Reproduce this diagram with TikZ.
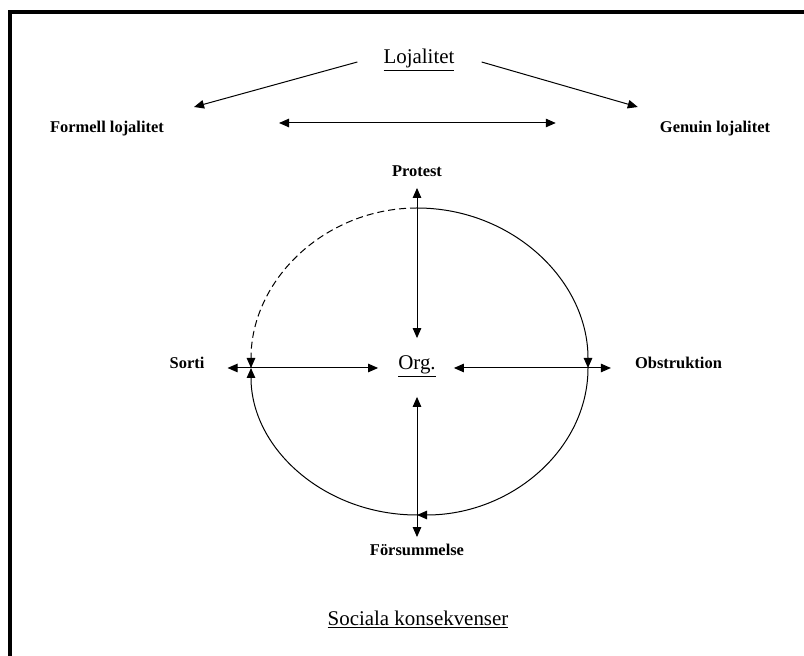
\documentclass[tikz,border=0pt]{standalone}
\usepackage{fontspec}
\setmainfont{Liberation Serif}
\usetikzlibrary{arrows.meta}

\begin{document}
\begin{tikzpicture}[x=1bp,y=1bp,
        heading/.style={inner sep=0pt,anchor=base,font=\fontsize{21}{25}\selectfont},
        reaction/.style={inner sep=0pt,anchor=base,font=\fontsize{16.5}{20}\selectfont\bfseries},
        arr/.style={-{Triangle[length=10bp,width=8.5bp]},line width=1bp},
        dbl/.style={{Triangle[length=10bp,width=8.5bp]}-{Triangle[length=10bp,width=8.5bp]},line width=1bp}]
        % Define dimensions
        \def\rxright{171bp}
        \def\rxleft{166bp}
        \def\ryup{160bp}
        \def\rydown{147bp}
        \useasboundingbox (0,0) rectangle (804,656);
        % Frame (only top and left edge are visible)
        \draw[line width=4bp] (10,0) -- (10,644) -- (804,644);
        % Loyalty at the top
        \node[heading] (loj) at (419,592) {\underline{Lojalitet}};
        \node[reaction] (formell) at (107,523) {Formell lojalitet};
        \node[reaction] (genuin) at (715,523) {Genuin lojalitet};
        \draw[arr] ([shift={(-26,2)}]loj.base west) -- ([shift={(30,26)}]formell.base east);
        \draw[arr] ([shift={(27,2)}]loj.base east) -- ([shift={(-22,26)}]genuin.base west);
        \draw[dbl] ([shift={(115,10)}]formell.base east) -- ([shift={(-104,10)}]genuin.base west);
        % The four reactions round the organisation
        \node[reaction] (protest) at (417,479) {Protest};
        \node[heading] (org) at (417,286) {\underline{Org.}};
        \node[reaction] (sorti) at (187,287) {Sorti};
        \node[reaction] (obstr) at (678.5,287) {Obstruktion};
        \node[reaction] (fors) at (417,100) {Försummelse};
        \draw[dbl] ([yshift=-11]protest.base) -- ([yshift=32]org.base);
        \draw[dbl] ([yshift=-27]org.base) -- ([yshift=19]fors.base);
        \draw[dbl] ([shift={(23,1)}]sorti.base east) -- ([shift={(-20,2)}]org.base west);
        \draw[dbl] ([shift={(18,2)}]org.base east) -- ([shift={(-24,1)}]obstr.base west);
        % The cycle
        \coordinate (ctop) at (417,448);
        \coordinate (cright) at (588,288);
        \coordinate (cbottom) at (417,141);
        \draw[arr] (ctop) arc[start angle=90,end angle=0,x radius=\rxright,y radius=\ryup];
        \draw[arr] (cright) arc[start angle=0,end angle=-90,x radius=\rxright,y radius=\rydown];
        \draw[arr] (cbottom) arc[start angle=270,end angle=180,x radius=\rxleft,y radius=\rydown];
        \draw[arr,dash pattern=on 7bp off 4bp] (ctop) arc[start angle=90,end angle=180,x radius=\rxleft,y radius=\ryup];
        % Bottom
        \node[heading] (soc) at (418,30) {\underline{Sociala konsekvenser}};
    \end{tikzpicture}
\end{document}
